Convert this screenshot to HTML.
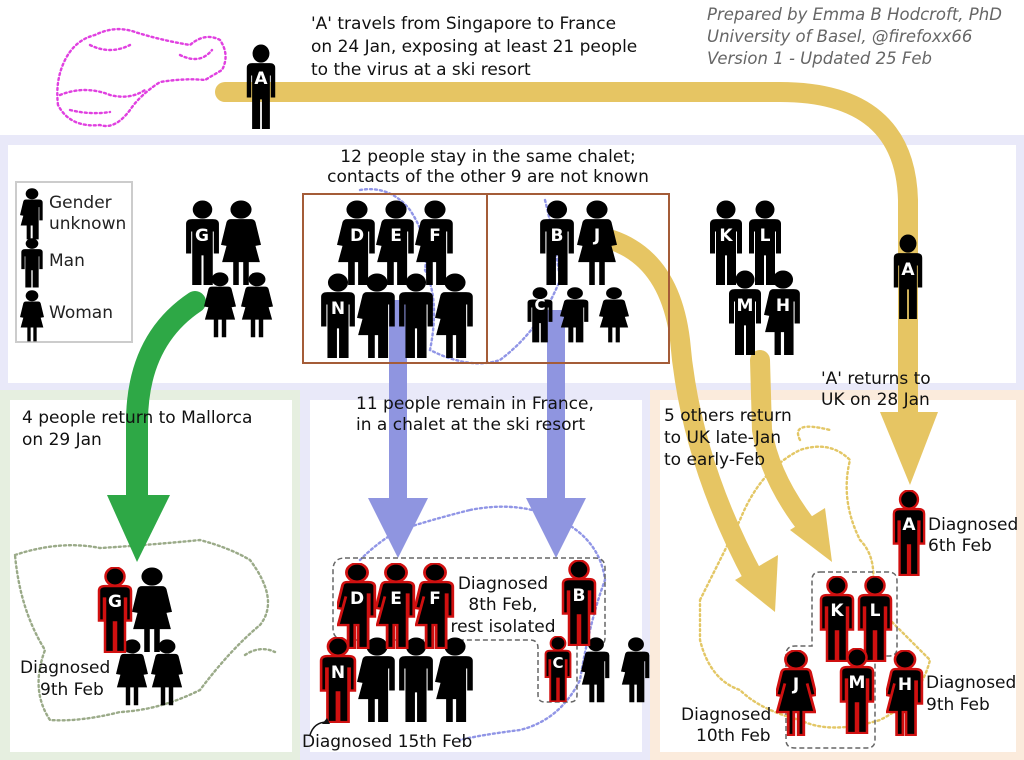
<!DOCTYPE html>
<html><head><meta charset="utf-8"><style>
html,body{margin:0;padding:0;background:#fff}
svg{display:block}
text{font-family:"DejaVu Sans","Liberation Sans",sans-serif;}
</style></head><body>
<svg width="1024" height="760" viewBox="0 0 1024 760" xmlns="http://www.w3.org/2000/svg">
<defs>
<symbol id="man" viewBox="0 0 36 90" preserveAspectRatio="none">
<circle cx="18" cy="10" r="9.5"/>
<path d="M2,25 Q2,20 8,20 L28,20 Q34,20 34,25 L34,56 L29,56 L29,33 L28,33 L28,89 L19,89 L19,58 L17,58 L17,89 L8,89 L8,33 L7,33 L7,56 L2,56 Z"/>
</symbol>
<symbol id="woman" viewBox="0 0 36 90" preserveAspectRatio="none">
<circle cx="18" cy="10" r="9.5"/>
<path d="M9,20 L27,20 Q30,20 31,23 L36,47 L31,48 L28,35 L35,65 L25,65 L25,89 L20,89 L20,65 L16,65 L16,89 L11,89 L11,65 L1,65 L8,35 L5,48 L0,47 L5,23 Q6,20 9,20 Z"/>
</symbol>
<symbol id="unk" viewBox="0 0 36 90" preserveAspectRatio="none">
<circle cx="18" cy="10" r="9.5"/>
<path d="M9,20 L28,20 Q34,20 34,25 L34,56 L29,56 L29,33 L28,33 L28,89 L19,89 L19,65 L16,65 L16,89 L10,89 L10,65 L1,65 L8,35 L5,48 L0,47 L5,23 Q6,20 9,20 Z"/>
</symbol>
</defs>

<!-- panels -->
<rect x="0" y="135" width="1024" height="255" fill="#e9e9f9"/>
<rect x="8" y="145" width="1008" height="238" fill="#fff"/>
<rect x="0" y="390" width="300" height="370" fill="#e6efe0"/>
<rect x="10" y="400" width="282" height="352" fill="#fff"/>
<rect x="300" y="390" width="350" height="370" fill="#e9e9f9"/>
<rect x="310" y="400" width="332" height="352" fill="#fff"/>
<rect x="650" y="390" width="374" height="370" fill="#fbebdc"/>
<rect x="660" y="400" width="356" height="352" fill="#fff"/>

<!-- maps (dotted) -->
<g fill="none" stroke-dasharray="2 3" stroke-width="2.4" stroke-linecap="round">
<path d="M58,105 Q55,80 65,60 Q75,40 95,35 Q115,25 135,32 Q160,40 190,45 Q205,32 220,40 Q230,55 222,70 L205,80 Q185,78 160,82 Q140,95 130,110 Q115,130 100,125 Q70,128 58,105 Z" stroke="#e040e0"/>
<path d="M60,95 Q85,85 110,95 Q130,100 145,90 M90,45 Q110,55 130,45 M180,55 Q200,65 212,50 M70,110 Q90,115 110,112" stroke="#e040e0"/>
<path d="M15,555 Q60,540 100,548 Q150,545 200,540 Q230,548 250,560 Q280,600 260,625 Q230,650 200,690 Q160,710 120,712 Q80,722 50,720 Q30,690 45,650 Q20,610 15,555 Z" stroke="#9aaa88"/>
<path d="M245,655 Q260,645 275,652" stroke="#9aaa88"/>
<path d="M360,190 Q390,185 410,210 Q430,240 425,270 Q440,300 430,350 Q470,370 500,360 Q540,330 560,280 Q555,240 545,200 M470,510 Q520,500 560,520 Q600,540 605,580 Q590,620 580,680 Q560,720 520,730 Q480,735 460,740 M360,560 Q380,540 400,530 Q430,520 470,510" stroke="#9095e6"/>
<path d="M700,600 Q720,560 740,520 Q760,470 800,450 Q830,440 850,460 Q840,500 860,540 Q880,560 870,600 Q900,630 930,660 Q920,700 880,720 Q830,735 800,720 Q760,710 740,690 Q710,680 700,640 Z M800,440 Q790,420 830,430" stroke="#e3c766"/>
</g>

<!-- arrows -->
<g fill="none" stroke-linecap="round">
<path d="M225,92 L780,92 Q905,92 908,200 L908,420" stroke="#e6c563" stroke-width="20"/>
<path d="M612,240 Q670,260 680,340 Q690,460 755,580" stroke="#e6c563" stroke-width="20"/>
<path d="M760,360 L762,430 Q770,480 810,530" stroke="#e6c563" stroke-width="20"/>
<path d="M195,302 Q138,340 137,420 L137,500" stroke="#2ea846" stroke-width="22"/>
</g>
<polygon points="880,412 938,412 910,485" fill="#e6c563"/>
<polygon points="735,580 778,555 775,612" fill="#e6c563"/>
<polygon points="790,530 825,508 832,562" fill="#e6c563"/>
<polygon points="107,495 170,495 137,562" fill="#2ea846"/>
<rect x="389" y="300" width="18" height="200" fill="#8f95e0"/>
<polygon points="368,498 428,498 398,558" fill="#8f95e0"/>
<rect x="547" y="310" width="18" height="190" fill="#8f95e0"/>
<polygon points="526,498 586,498 556,558" fill="#8f95e0"/>

<!-- boxes -->
<rect x="303" y="194" width="184" height="169" fill="none" stroke="#a45c38" stroke-width="2"/>
<rect x="487" y="194" width="182" height="169" fill="none" stroke="#a45c38" stroke-width="2"/>
<rect x="16" y="182" width="116" height="160" fill="#fff" stroke="#ccc" stroke-width="2"/>
<g fill="none" stroke="#666" stroke-width="1.5" stroke-dasharray="5 3">
<path d="M345,558 L595,558 Q605,558 605,568 L605,638 Q605,645 598,645 L577,645 L577,695 Q577,702 570,702 L545,702 Q538,702 538,695 L538,648 Q538,640 530,640 L460,640 L345,640 Q333,640 333,628 L333,570 Q333,558 345,558 Z"/>
<path d="M820,572 L888,572 Q897,572 897,581 L897,648 Q897,656 889,656 L875,656 L875,740 Q875,748 867,748 L795,748 Q786,748 786,740 L786,655 Q786,646 795,646 L812,646 L812,580 Q812,572 820,572 Z"/>
</g>

<!-- legend -->
<use href="#unk" x="20" y="188" width="24" height="52"/>
<use href="#man" x="20" y="238" width="24" height="50"/>
<use href="#woman" x="20" y="290" width="24" height="52"/>
<g font-size="17" fill="#222">
<text x="49" y="208">Gender</text><text x="49" y="229">unknown</text>
<text x="49" y="266">Man</text><text x="49" y="318">Woman</text>
</g>

<!-- people top -->
<g fill="#000">
<use href="#man" x="245" y="44" width="32" height="86"/>
<use href="#man" x="184" y="200" width="37" height="86"/>
<use href="#woman" x="221" y="200" width="40" height="86"/>
<use href="#woman" x="204" y="272" width="32" height="66"/>
<use href="#woman" x="241" y="272" width="32" height="66"/>
<use href="#unk" x="337" y="200" width="40" height="86"/>
<use href="#unk" x="376" y="200" width="40" height="86"/>
<use href="#unk" x="415" y="200" width="40" height="86"/>
<use href="#man" x="319" y="273" width="38" height="86"/>
<use href="#unk" x="357" y="273" width="40" height="86"/>
<use href="#man" x="397" y="273" width="38" height="86"/>
<use href="#unk" x="435" y="273" width="40" height="86"/>
<use href="#man" x="538" y="200" width="38" height="86"/>
<use href="#woman" x="577" y="200" width="40" height="86"/>
<use href="#man" x="526" y="287" width="28" height="56"/>
<use href="#unk" x="560" y="287" width="30" height="56"/>
<use href="#woman" x="599" y="287" width="30" height="56"/>
<use href="#man" x="708" y="200" width="36" height="86"/>
<use href="#man" x="747" y="200" width="36" height="86"/>
<use href="#man" x="727" y="270" width="36" height="86"/>
<use href="#unk" x="764" y="270" width="38" height="86"/>
<use href="#man" x="892" y="234" width="32" height="86"/>

<!-- bottom -->
<use href="#woman" x="132" y="567" width="40" height="86"/>
<use href="#woman" x="116" y="639" width="32" height="67"/>
<use href="#woman" x="151" y="639" width="32" height="67"/>
<use href="#unk" x="357" y="637" width="40" height="86"/>
<use href="#man" x="397" y="637" width="38" height="86"/>
<use href="#unk" x="435" y="637" width="40" height="86"/>
<use href="#unk" x="581" y="637" width="30" height="66"/>
<use href="#unk" x="621" y="637" width="30" height="66"/>
</g>
<g fill="#000" stroke="#d01010" stroke-width="2.5">
<use href="#man" x="97" y="567" width="36" height="86"/>
<use href="#unk" x="337" y="563" width="40" height="86"/>
<use href="#unk" x="376" y="563" width="40" height="86"/>
<use href="#unk" x="415" y="563" width="40" height="86"/>
<use href="#man" x="319" y="637" width="38" height="86"/>
<use href="#man" x="561" y="560" width="36" height="86"/>
<use href="#man" x="544" y="636" width="28" height="66"/>
<use href="#man" x="892" y="490" width="34" height="86"/>
<use href="#man" x="819" y="576" width="36" height="86"/>
<use href="#man" x="857" y="576" width="36" height="86"/>
<use href="#man" x="839" y="648" width="36" height="86"/>
<use href="#unk" x="886" y="650" width="38" height="86"/>
<use href="#woman" x="776" y="650" width="40" height="86"/>
</g>

<!-- letters -->
<g fill="#fff" font-weight="bold" font-size="17" text-anchor="middle">
<text x="261" y="84">A</text>
<text x="202" y="241">G</text>
<text x="357" y="241">D</text><text x="396" y="241">E</text><text x="435" y="241">F</text>
<text x="338" y="314">N</text>
<text x="557" y="241">B</text><text x="597" y="241">J</text>
<text x="540" y="310" font-size="15">C</text>
<text x="726" y="241">K</text><text x="765" y="241">L</text>
<text x="745" y="311">M</text><text x="783" y="311">H</text>
<text x="908" y="275">A</text>
<text x="115" y="607">G</text>
<text x="357" y="604">D</text><text x="396" y="604">E</text><text x="435" y="604">F</text>
<text x="338" y="678">N</text>
<text x="579" y="601">B</text>
<text x="558" y="668" font-size="15">C</text>
<text x="909" y="530">A</text>
<text x="837" y="616">K</text><text x="875" y="616">L</text>
<text x="857" y="688">M</text><text x="905" y="690">H</text>
<text x="796" y="690">J</text>
</g>

<!-- text -->
<g font-size="17" fill="#111">
<text x="311" y="29">'A' travels from Singapore to France</text>
<text x="311" y="52">on 24 Jan, exposing at least 21 people</text>
<text x="311" y="75">to the virus at a ski resort</text>
<text x="488" y="162" text-anchor="middle">12 people stay in the same chalet;</text>
<text x="488" y="182" text-anchor="middle">contacts of the other 9 are not known</text>
<text x="22" y="423">4 people return to Mallorca</text>
<text x="22" y="445">on 29 Jan</text>
<text x="356" y="409">11 people remain in France,</text>
<text x="356" y="430">in a chalet at the ski resort</text>
<text x="821" y="384">'A' returns to</text>
<text x="821" y="405">UK on 28 Jan</text>
<text x="664" y="421">5 others return</text>
<text x="664" y="443">to UK late-Jan</text>
<text x="664" y="465">to early-Feb</text>
<text x="20" y="673">Diagnosed</text>
<text x="40" y="695">9th Feb</text>
<text x="503" y="589" text-anchor="middle">Diagnosed</text>
<text x="503" y="610" text-anchor="middle">8th Feb,</text>
<text x="503" y="632" text-anchor="middle">rest isolated</text>
<text x="302" y="747">Diagnosed 15th Feb</text>
<text x="928" y="530">Diagnosed</text>
<text x="928" y="551">6th Feb</text>
<text x="926" y="688">Diagnosed</text>
<text x="926" y="710">9th Feb</text>
<text x="681" y="720">Diagnosed</text>
<text x="696" y="741">10th Feb</text>
</g>
<path d="M327,722 Q314,722 310,735" fill="none" stroke="#111" stroke-width="1.5"/>
<polygon points="327,718 330,724 322,724" fill="#111"/>
<g font-size="16.5" fill="#666" font-style="italic">
<text x="707" y="20">Prepared by Emma B Hodcroft, PhD</text>
<text x="707" y="42">University of Basel, @firefoxx66</text>
<text x="707" y="64">Version 1 - Updated 25 Feb</text>
</g>
</svg>
</body></html>
